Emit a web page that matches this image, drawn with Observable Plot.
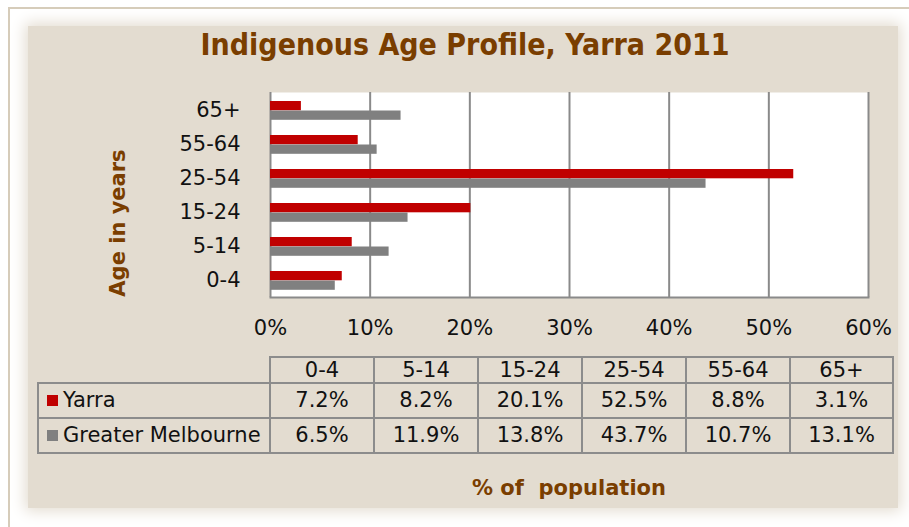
<!DOCTYPE html>
<html>
<head>
<meta charset="utf-8">
<script src="https://cdn.jsdelivr.net/npm/d3@7"></script>
<script src="https://cdn.jsdelivr.net/npm/@observablehq/plot@0.6"></script>
<style>
  html, body { margin: 0; padding: 0; background: #fff; }
  #root { position: relative; width: 909px; height: 527px; overflow: hidden; background: #fff; font-family: "DejaVu Sans", Verdana, sans-serif; }
  #frameline { position: absolute; left: 8px; top: 7px; right: -10px; bottom: -10px; border-top: 2px solid #d6ccba; border-left: 2px solid #d6ccba; }
  #panel { position: absolute; left: 28px; top: 26px; width: 870px; height: 482px; background: #e3dcd0; box-shadow: 0 0 14px 3px #e3dcd0; }
  #title { position: absolute; left: 465px; top: 27px; transform: translateX(-50%); white-space: nowrap; font-family: "DejaVu Sans Condensed", "DejaVu Sans", sans-serif; font-weight: bold; font-size: 30px; color: #7a3e00; }
  #chart { position: absolute; left: 0; top: 0; }
  #ylabel { position: absolute; left: 118px; top: 223px; transform: translate(-50%, -50%) rotate(-90deg); white-space: nowrap; font-weight: bold; font-size: 21px; color: #7a3e00; }
  #xlabel { position: absolute; left: 569px; top: 488px; transform: translate(-50%, -50%); white-space: pre; font-weight: bold; font-size: 21px; color: #7a3e00; }
  #datatable { position: absolute; left: 37px; top: 356px; border-collapse: collapse; table-layout: fixed; font-size: 21px; color: #111; }
  #datatable td { border: 2px solid #8c8c8c; padding: 0; text-align: center; white-space: nowrap; overflow: hidden; }
  #datatable td.blank { border: none; }
  #datatable td.legend { text-align: left; padding-left: 8px; }
  #datatable tr.head td { height: 24px; line-height: 24px; }
  #datatable tr.row td { height: 33px; line-height: 33px; }
  .swatch { display: inline-block; width: 11px; height: 11px; margin-right: 5px; vertical-align: 1px; }
</style>
</head>
<body>
<div id="root">
  <div id="frameline"></div>
  <div id="panel"></div>
  <div id="title"></div>
  <div id="chart"></div>
  <div id="ylabel"></div>
  <table id="datatable"></table>
  <div id="xlabel"></div>
</div>
<script>
// ---- data ----
const titleText = "Indigenous Age Profile, Yarra 2011";
const yLabelText = "Age in years";
const xLabelText = "% of  population";
const ages = ["0-4", "5-14", "15-24", "25-54", "55-64", "65+"];
const seriesNames = ["Yarra", "Greater Melbourne"];
const seriesColors = ["#c00000", "#808080"];
const yarra = [7.2, 8.2, 20.1, 52.5, 8.8, 3.1];
const melbourne = [6.5, 11.9, 13.8, 43.7, 10.7, 13.1];
const xTicks = [0, 10, 20, 30, 40, 50, 60];

// ---- text ----
document.getElementById("title").textContent = titleText;
document.getElementById("ylabel").textContent = yLabelText;
document.getElementById("xlabel").textContent = xLabelText;

// ---- chart ----
const yarraData = ages.map((a, i) => ({age: a, value: yarra[i]}));
const melbData = ages.map((a, i) => ({age: a, value: melbourne[i]}));
const gridColor = "#8a8a8a";

const chart = Plot.plot({
  width: 909,
  height: 340,
  marginLeft: 270,
  marginRight: 41,
  marginTop: 92,
  marginBottom: 43,
  style: {background: "transparent", fontFamily: "DejaVu Sans, Verdana, sans-serif", fontSize: "21px", color: "#111", overflow: "visible"},
  x: {domain: [0, 60], label: null},
  y: {domain: ages.slice().reverse(), padding: 0, label: null},
  marks: [
    Plot.frame({fill: "#ffffff", stroke: "none"}),
    Plot.gridX(xTicks, {stroke: gridColor, strokeOpacity: 1, strokeWidth: 2}),
    Plot.frame({anchor: "bottom", stroke: gridColor, strokeOpacity: 1, strokeWidth: 2}),
    Plot.barX(yarraData, {x: "value", y: "age", fill: seriesColors[0], insetTop: 8, insetBottom: 16.7}),
    Plot.barX(melbData, {x: "value", y: "age", fill: seriesColors[1], insetTop: 17.5, insetBottom: 7.2}),
    Plot.axisX(xTicks, {tickSize: 0, tickPadding: 23, tickFormat: d => d + "%", fontSize: 21, label: null}),
    Plot.axisY({tickSize: 0, tickPadding: 30, textAnchor: "end", fontSize: 21, label: null})
  ]
});
document.getElementById("chart").appendChild(chart);

// ---- data table ----
const table = document.getElementById("datatable");
const colWidths = [232, 104, 104, 104, 104, 104, 103];
const colgroup = document.createElement("colgroup");
colWidths.forEach(w => { const c = document.createElement("col"); c.style.width = w + "px"; colgroup.appendChild(c); });
table.appendChild(colgroup);
table.style.width = d3.sum(colWidths) + "px";

const head = document.createElement("tr");
head.className = "head";
const blank = document.createElement("td");
blank.className = "blank";
head.appendChild(blank);
ages.forEach(a => { const td = document.createElement("td"); td.textContent = a; head.appendChild(td); });
table.appendChild(head);

[yarra, melbourne].forEach((vals, si) => {
  const tr = document.createElement("tr");
  tr.className = "row";
  const lg = document.createElement("td");
  lg.className = "legend";
  const sw = document.createElement("span");
  sw.className = "swatch";
  sw.style.background = seriesColors[si];
  lg.appendChild(sw);
  lg.appendChild(document.createTextNode(seriesNames[si]));
  tr.appendChild(lg);
  vals.forEach(v => { const td = document.createElement("td"); td.textContent = v.toFixed(1) + "%"; tr.appendChild(td); });
  table.appendChild(tr);
});
</script>
</body>
</html>
